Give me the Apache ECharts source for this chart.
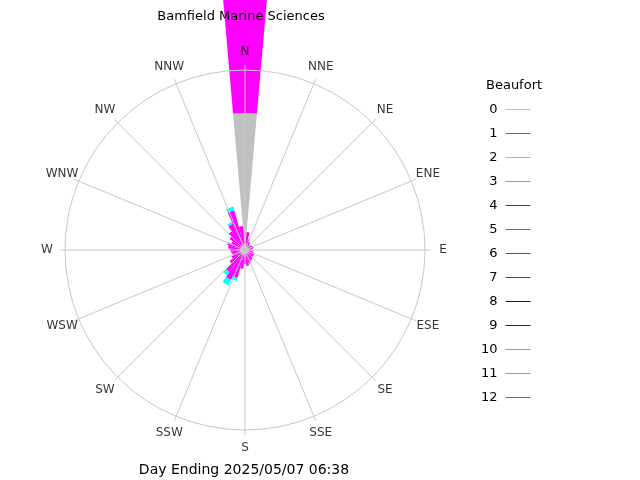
<!DOCTYPE html>
<html>
<head>
<meta charset="utf-8">
<script src="https://cdn.jsdelivr.net/npm/echarts@6/dist/echarts.min.js"></script>
<style>html,body{margin:0;padding:0;background:#fff;}#c{width:640px;height:480px;}</style>
</head>
<body>
<div id="c"></div>
<script>
// 36 direction bins (degrees, clockwise from N)
const directions = ['0','10','20','30','40','50','60','70','80','90','100','110','120','130','140','150','160','170','180','190','200','210','220','230','240','250','260','270','280','290','300','310','320','330','340','350'];
// compass tick labels (every 22.5 deg)
const compassLabels = ['N','NNE','NE','ENE','E','ESE','SE','SSE','S','SSW','SW','WSW','W','WNW','NW','NNW'];
// Beaufort classes
const beaufortClasses = ['0','1','2','3','4','5','6','7','8','9','10','11','12'];
// frequency (radial length) for each Beaufort class, per direction
const beaufort0 = [137,6,5,5,4,4,4,4,4,4,4,4,4,4,4,4,4,4,4,5,5,5,5,5,5,5,5,5,5,5,5,5,5,5,5,6];
const beaufort1 = [123,12,6,4,3,3,4,5,4,3,4,5,6,6,7,8,10,12,10,14,24,28,22,14,10,8,9,10,12,13,10,14,18,24,36,18];
const beaufort2 = [0,0,0,0,0,0,0,0,0,0,0,0,0,0,0,0,0,0,0,0,3,6,4,0,0,0,0,0,0,1,0,0,0,2,4,0];
const beaufortValues = [beaufort0, beaufort1, beaufort2, [], [], [], [], [], [], [], [], [], []];
const beaufortColors = ['#c0c0c0','#ff00ff','#00ffff','#ff7070','#8000ff','#a0602a','#008060','#f00000','#0000e0','#900000','#20f020','#ff8020','#2080e0'];

const FONT = 'DejaVu Sans';
const series = beaufortClasses.map((name, i) => ({
  name: name,
  type: 'bar',
  coordinateSystem: 'polar',
  polarIndex: 0,
  stack: 'wind',
  barCategoryGap: '0%',
  clip: false,
  silent: true,
  itemStyle: { color: beaufortColors[i] },
  data: beaufortValues[i]
}));
// compass labels placed through the grid polar's scales, centred on a ring
const LABEL_R = 198;
series.push({
  name: 'compass',
  type: 'scatter',
  coordinateSystem: 'polar',
  polarIndex: 1,
  symbolSize: 0,
  clip: false,
  silent: true,
  z: 10,
  label: {
    show: true, position: 'inside', align: 'center', verticalAlign: 'middle',
    fontFamily: FONT, fontSize: 12, color: '#000',
    formatter: p => compassLabels[p.dataIndex]
  },
  data: compassLabels.map((_, k) => [LABEL_R, k * 22.5])
});

const chart = echarts.init(document.getElementById('c'), null, { renderer: 'canvas' });
chart.setOption({
  animation: false,
  backgroundColor: '#ffffff',
  title: [
    { text: 'Bamfield Marine Sciences', left: 236, top: 5, textAlign: 'center',
      textStyle: { fontFamily: FONT, fontSize: 13, fontWeight: 'normal', color: '#000' } },
    { text: 'Day Ending 2025/05/07 06:38', left: 239, top: 458, textAlign: 'center',
      textStyle: { fontFamily: FONT, fontSize: 14, fontWeight: 'normal', color: '#000' } },
    { text: 'Beaufort', left: 481, top: 74,
      textStyle: { fontFamily: FONT, fontSize: 13, fontWeight: 'normal', color: '#000' } }
  ],
  legend: {
    orient: 'vertical',
    left: 476,
    top: 97,
    align: 'right',
    itemWidth: 25,
    itemHeight: 1,
    itemGap: 9,
    icon: 'rect',
    selectedMode: false,
    data: beaufortClasses,
    textStyle: { fontFamily: FONT, fontSize: 13, color: '#000', lineHeight: 15, padding: [0, 3, 0, 0] }
  },
  polar: [
    { center: [245, 250], radius: 180 },
    { center: [245, 250], radius: 180 }
  ],
  angleAxis: [
    { polarIndex: 0, type: 'category', data: directions, startAngle: 95, clockwise: true,
      boundaryGap: true, show: false },
    { polarIndex: 1, type: 'value', min: 0, max: 360, interval: 22.5, startAngle: 90, clockwise: true,
      z: 5,
      axisLine: { show: true, lineStyle: { color: '#c8c8c8', width: 1 } },
      axisTick: { show: true, inside: false, length: 5, lineStyle: { color: '#c8c8c8', width: 1 } },
      splitLine: { show: true, lineStyle: { color: '#c8c8c8', width: 1 } },
      axisLabel: { show: false }
    }
  ],
  radiusAxis: [
    { polarIndex: 0, type: 'value', min: 0, max: 180, show: false },
    { polarIndex: 1, type: 'value', min: 0, max: 180, show: true, z: 5,
      axisLine: { show: false }, axisTick: { show: false }, axisLabel: { show: false },
      splitLine: { show: false }, splitArea: { show: false } }
  ],
  series: series
});
</script>
</body>
</html>
